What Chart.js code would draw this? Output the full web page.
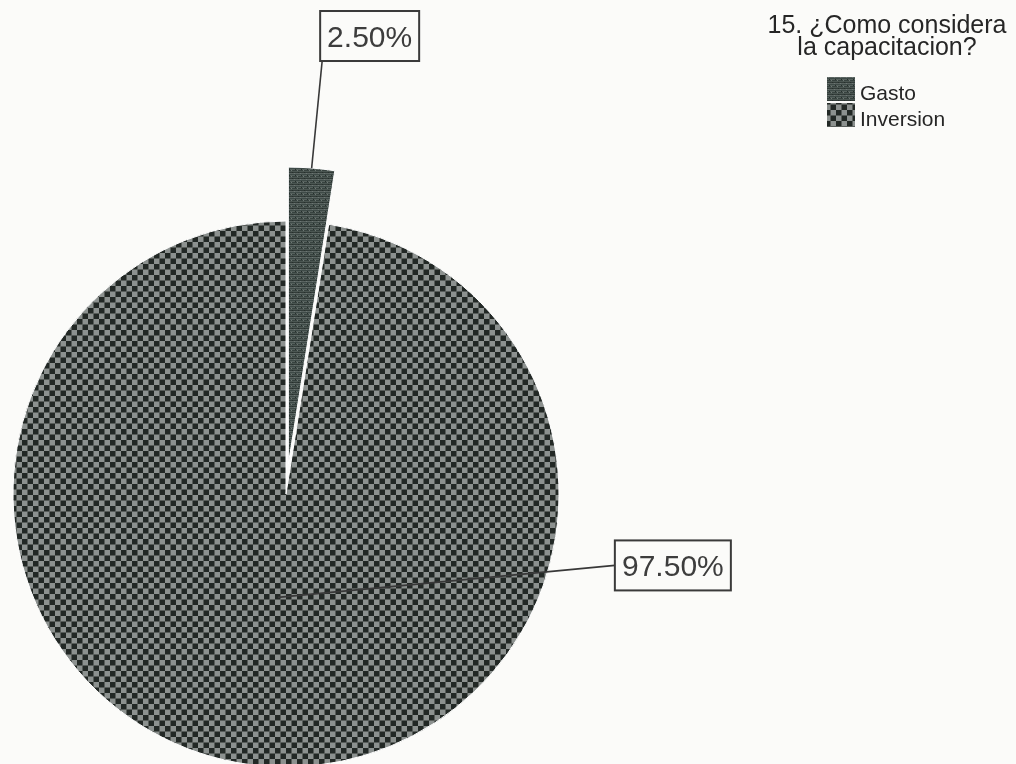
<!DOCTYPE html>
<html lang="es">
<head>
<meta charset="utf-8">
<title>15. ¿Como considera la capacitacion?</title>
<script src="https://cdn.jsdelivr.net/npm/chart.js@4.4.1/dist/chart.umd.min.js"></script>
<style>
  html, body { margin: 0; padding: 0; background: #fbfbf9; }
  #wrap { position: relative; width: 1016px; height: 764px; overflow: hidden; }
  canvas { display: block; }
</style>
</head>
<body>
<div id="wrap"><canvas id="pie" width="1016" height="764"></canvas></div>
<script>
// ---- data ----
const categories = ['Gasto', 'Inversion'];
const percentages = [2.5, 97.5];
const legendTitle = ['15. ¿Como considera', 'la capacitacion?'];
const sliceLabels = percentages.map(v => v.toFixed(2) + '%');

// ---- styling ----
const BG = '#fbfbf9';
const FONT = '"Liberation Sans", Arial, Helvetica, sans-serif';
const explodeShift = [30, 0];   // px the slice is pulled outwards
const explodeGrow = [24, 0];    // px added to the pulled slice's radius

function makeCanvas(w, h) {
  const c = document.createElement('canvas');
  c.width = w; c.height = h;
  return c;
}

// Checkerboard fill for "Inversion"
function checkerPattern() {
  const c = makeCanvas(11, 11);
  const g = c.getContext('2d');
  g.fillStyle = '#8c918f';
  g.fillRect(0, 0, 11, 11);
  g.fillStyle = '#222825';
  g.fillRect(0, 0, 5.5, 5.5);
  g.fillRect(5.5, 5.5, 5.5, 5.5);
  return g.createPattern(c, 'repeat');
}

// Dark streaked fill for "Gasto"
function streakPattern() {
  const c = makeCanvas(6, 6);
  const g = c.getContext('2d');
  const rows = ['#3e4a47', '#56615d', '#37423f', '#4b5652', '#323c39', '#5a6461'];
  rows.forEach((col, i) => { g.fillStyle = col; g.fillRect(0, i, 6, 1); });
  g.fillStyle = '#262f2c'; g.fillRect(1, 1, 1, 1); g.fillRect(4, 4, 1, 1);
  g.fillStyle = '#6d7774'; g.fillRect(3, 2, 1, 1); g.fillRect(0, 5, 1, 1);
  return g.createPattern(c, 'repeat');
}

const fills = [streakPattern(), checkerPattern()];

// Pulls a slice out along its mid-angle and lengthens it, keeping its angle
const explodePlugin = {
  id: 'explode',
  afterDatasetUpdate(chart, args) {
    args.meta.data.forEach((arc, i) => {
      const shift = explodeShift[i] || 0;
      const grow = explodeGrow[i] || 0;
      if (!shift && !grow) return;
      const mid = (arc.startAngle + arc.endAngle) / 2;
      arc.x += Math.cos(mid) * shift;
      arc.y += Math.sin(mid) * shift;
      arc.outerRadius += grow;
    });
  }
};

function slicePoint(arc, frac) {
  const mid = (arc.startAngle + arc.endAngle) / 2;
  const r = arc.outerRadius * frac;
  return { x: arc.x + Math.cos(mid) * r, y: arc.y + Math.sin(mid) * r };
}

// Where each boxed label sits relative to its slice
const calloutSpecs = [
  { anchor: 1, dx: 10.5, dy: -107, attach: 'bottom' },
  { anchor: 0.38, dx: 337, dy: -32, attach: 'left' }
];

// Boxed percentage labels with leader lines
const calloutPlugin = {
  id: 'callouts',
  afterDatasetsDraw(chart) {
    const ctx = chart.ctx;
    const meta = chart.getDatasetMeta(0);
    const padX = 7, bh = 50;
    ctx.save();
    ctx.font = '30px ' + FONT;
    meta.data.forEach((arc, i) => {
      const spec = calloutSpecs[i];
      const a = slicePoint(arc, spec.anchor);
      const px = a.x + spec.dx;
      const py = a.y + spec.dy;
      const text = sliceLabels[i];
      const tw = ctx.measureText(text).width;
      const bw = Math.round(tw + 2 * padX);
      let bx, by;
      if (spec.attach === 'bottom') {
        bx = px - 2; by = py - bh;
      } else {
        bx = px; by = py - bh / 2;
      }
      // leader
      ctx.strokeStyle = '#383838';
      ctx.lineWidth = 1.6;
      ctx.beginPath();
      ctx.moveTo(a.x, a.y);
      ctx.lineTo(px, py);
      ctx.stroke();
      // box
      ctx.fillStyle = BG;
      ctx.fillRect(bx, by, bw, bh);
      ctx.strokeStyle = '#3a3a3a';
      ctx.lineWidth = 2;
      ctx.strokeRect(bx, by, bw, bh);
      // text
      ctx.fillStyle = '#3d3d3d';
      ctx.textAlign = 'center';
      ctx.textBaseline = 'alphabetic';
      ctx.fillText(text, bx + bw / 2, by + bh / 2 + 10.7);
    });
    ctx.restore();
  }
};

// Legend block with two-line title, drawn at the upper right
const legendLayout = {
  titleX: 887, titleBaseline: 33, titleLineHeight: 22,
  itemTop: 77, itemPitch: 26, boxX: 827, boxW: 28, boxH: 24, textX: 860
};

const legendPlugin = {
  id: 'sideLegend',
  afterDraw(chart) {
    const L = legendLayout;
    const ctx = chart.ctx;
    ctx.save();
    ctx.fillStyle = '#262626';
    ctx.textAlign = 'center';
    ctx.textBaseline = 'alphabetic';
    ctx.font = '25px ' + FONT;
    legendTitle.forEach((line, i) => {
      ctx.fillText(line, L.titleX, L.titleBaseline + i * L.titleLineHeight);
    });
    ctx.font = '21px ' + FONT;
    ctx.textAlign = 'left';
    categories.forEach((name, i) => {
      const y = L.itemTop + i * L.itemPitch;
      ctx.fillStyle = fills[i];
      ctx.fillRect(L.boxX, y, L.boxW, L.boxH);
      ctx.fillStyle = '#262626';
      ctx.fillText(name, L.textX, y + L.boxH - 1.5);
    });
    ctx.restore();
  }
};

new Chart(document.getElementById('pie'), {
  type: 'pie',
  data: {
    labels: categories,
    datasets: [{
      data: percentages,
      backgroundColor: fills,
      borderColor: '#ffffff',
      borderWidth: 1,
      radius: 273,
      hoverOffset: 0
    }]
  },
  options: {
    responsive: false,
    animation: false,
    events: [],
    layout: { padding: { left: 0, right: 444, top: 224, bottom: 0 } },
    plugins: {
      legend: { display: false },
      tooltip: { enabled: false }
    }
  },
  plugins: [explodePlugin, calloutPlugin, legendPlugin]
});
</script>
</body>
</html>
